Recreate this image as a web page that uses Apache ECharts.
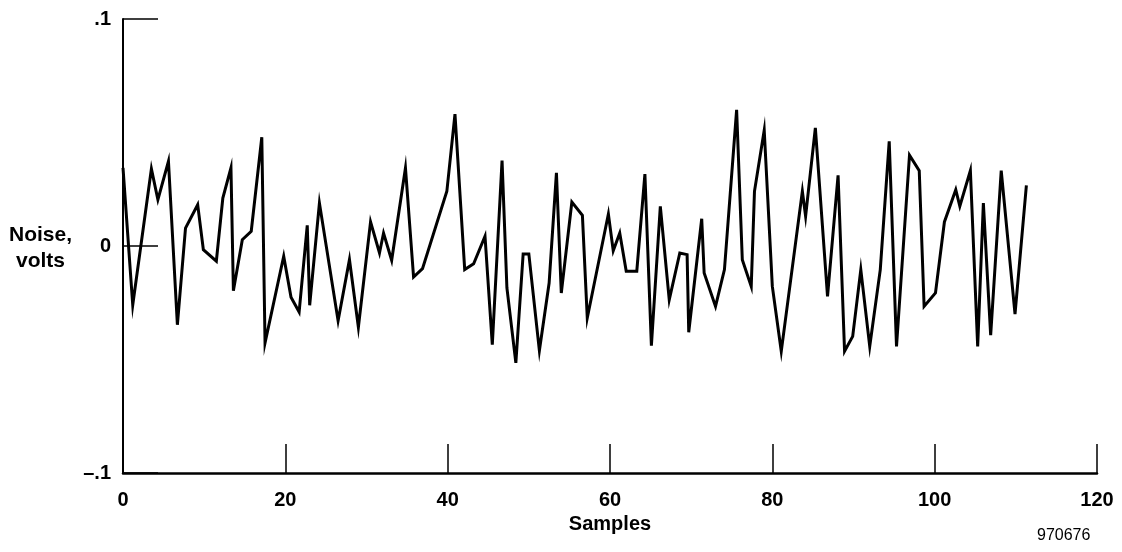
<!DOCTYPE html>
<html><head><meta charset="utf-8">
<script src="https://cdn.jsdelivr.net/npm/echarts@6/dist/echarts.min.js"></script>
<style>html,body{margin:0;padding:0;background:#fff}#c{width:1122px;height:552px}</style>
</head><body><div id="c"></div>
<script>
var xs = [0.0,1.2,3.5,4.3,5.6,6.7,7.7,9.2,9.9,11.5,12.3,13.3,13.6,14.7,15.8,17.1,17.5,19.8,20.7,21.7,22.7,23.0,24.2,26.5,27.9,29.0,30.5,31.6,32.1,33.1,34.8,35.8,36.9,39.9,40.9,42.1,43.2,44.6,45.5,46.7,47.3,48.4,49.3,50.0,51.3,52.5,53.4,54.0,55.3,56.6,57.2,59.8,60.4,61.2,62.0,63.3,64.3,65.1,66.2,67.3,68.6,69.5,69.7,71.3,71.6,73.0,74.1,75.6,76.3,77.4,77.8,79.0,80.0,81.1,83.7,84.1,85.3,86.8,88.1,88.9,89.9,90.9,92.0,93.3,94.4,95.3,96.9,98.1,98.7,100.1,101.2,102.6,103.1,104.4,105.3,106.0,106.9,108.2,109.9,111.3];
var ys = [0.0344,-0.026,0.034,0.0204,0.0373,-0.0347,0.0079,0.0182,-0.0016,-0.0067,0.0211,0.0344,-0.0197,0.0028,0.0065,0.0479,-0.0427,-0.0045,-0.0226,-0.0291,0.0091,-0.0261,0.0189,-0.0329,-0.006,-0.0358,0.0106,-0.0031,0.0057,-0.0063,0.0344,-0.0137,-0.01,0.0241,0.0581,-0.0104,-0.0078,0.0043,-0.0435,0.0376,-0.0185,-0.0515,-0.0035,-0.0035,-0.0461,-0.0163,0.0322,-0.0207,0.0194,0.0135,-0.0317,0.0141,-0.0021,0.0057,-0.0111,-0.0111,0.0317,-0.0439,0.0175,-0.0237,-0.0031,-0.0038,-0.038,0.012,-0.0119,-0.0266,-0.0104,0.06,-0.006,-0.0178,0.0241,0.051,-0.0178,-0.0464,0.0241,0.0131,0.052,-0.0222,0.0311,-0.0464,-0.0398,-0.0104,-0.0442,-0.0104,0.0461,-0.0442,0.04,0.0332,-0.0266,-0.0207,0.0106,0.0248,0.0175,0.0332,-0.0442,0.0189,-0.0393,0.0332,-0.03,0.0267];
var yTickLabels = {"1": ".1", "0": "0", "-1": "\u2013.1"};
var xTitle = "Samples";
var yTitle = "Noise,\nvolts";
var figId = "970676";

var pts = xs.map(function(x, i){ return [x, ys[i]]; });
var font = "Liberation Sans";
var chart = echarts.init(document.getElementById('c'), null, {renderer:'canvas'});
chart.setOption({
  animation: false,
  backgroundColor: '#fff',
  grid: {left: 123, right: 25, top: 19, bottom: 79},
  xAxis: {
    type: 'value', min: 0, max: 120, interval: 20,
    axisLine: {show: true, onZero: false, lineStyle: {color: '#000', width: 2.5}},
    axisTick: {show: true, inside: true, length: 29, lineStyle: {color: '#000', width: 1.5}},
    splitLine: {show: false},
    axisLabel: {color: '#000', fontFamily: font, fontWeight: 'bold', fontSize: 20, margin: 17},
    name: xTitle, nameLocation: 'middle', nameGap: 40,
    nameTextStyle: {color: '#000', fontFamily: font, fontWeight: 'bold', fontSize: 20}
  },
  yAxis: {
    type: 'value', min: -0.1, max: 0.1, interval: 0.1,
    axisLine: {show: true, onZero: false, lineStyle: {color: '#000', width: 2}},
    axisTick: {show: true, inside: true, length: 35, lineStyle: {color: '#000', width: 1.5}},
    splitLine: {show: false},
    axisLabel: {color: '#000', fontFamily: font, fontWeight: 'bold', fontSize: 20, margin: 12,
      formatter: function(v){ return yTickLabels[String(Math.round(v*10))]; }}
  },
  graphic: [
    {type: 'text', left: 9, top: 222, style: {text: yTitle, fill: '#000', font: 'bold 21px "Liberation Sans"', textAlign: 'center', lineHeight: 26}},
    {type: 'text', left: 1037, top: 528, style: {text: figId, fill: '#000', font: '16px "Liberation Sans"'}}
  ],
  series: [{
    type: 'line', data: pts, showSymbol: false, symbol: 'none',
    lineStyle: {color: '#000', width: 3, join: 'miter'}
  }]
});
</script></body></html>
